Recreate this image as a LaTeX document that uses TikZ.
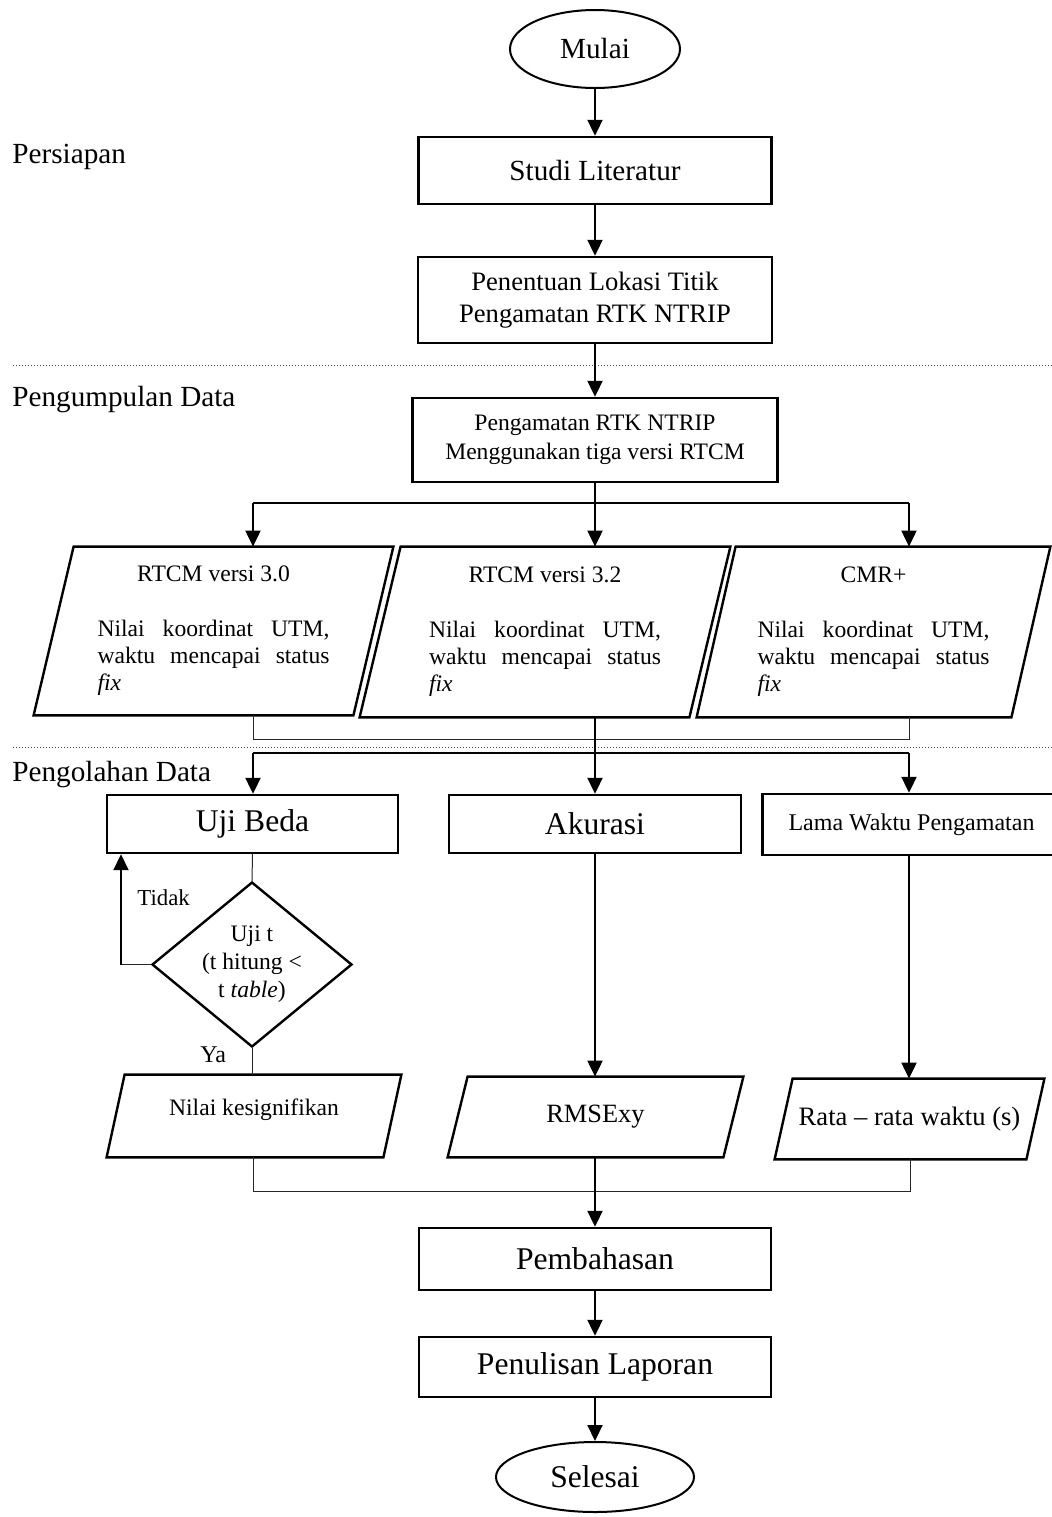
\documentclass[tikz,border=0pt]{standalone}
\usepackage{fontspec}
\setmainfont{Liberation Serif}
\usetikzlibrary{shapes.geometric,arrows.meta}
\tolerance=9999
\hyphenpenalty=10000

\begin{document}
\begin{tikzpicture}[x=0.5pt,y=-0.5pt,
    fbesar/.style={font=\fontsize{15.8}{19}\selectfont},
    fsedang/.style={font=\fontsize{14.6}{17}\selectfont},
    proses/.style={draw,line width=1.2pt,rectangle,inner sep=2pt,align=center},
    terminal/.style={draw,line width=1pt,ellipse,inner sep=0pt},
    datain/.style={rectangle,inner sep=0pt,align=center},
    dataout/.style={datain,text width=116pt,align=justify,font=\fontsize{11.8}{13.5}\selectfont},
    keputusan/.style={draw,line width=1.2pt,diamond,aspect=1.2,inner sep=0pt,align=center,font=\fontsize{11.8}{14}\selectfont},
    tahap/.style={anchor=base west,inner sep=0pt,fsedang},
    panah/.style={line width=1pt,-{Triangle[width=7.5pt,length=8pt]}},
    garis/.style={line width=1pt},
    tipis/.style={line width=0.5pt,black!85},
    batas/.style={line width=0.5pt,densely dotted,black!70}]
            \useasboundingbox (0,0) rectangle (1052,1517);

            % Stage labels and the dotted borders between them
            \node[tahap] (persiapan) at (12,163) {Persiapan};
            \node[tahap] (kumpul) at (12,406) {Pengumpulan Data};
            \node[tahap] (olah) at (12,781) {Pengolahan Data};
            \coordinate (b1a) at (13,365); \coordinate (b1b) at (1052,365);
            \coordinate (b2a) at (13,747); \coordinate (b2b) at (1052,747);
            \draw[batas] (b1a) -- (b1b);
            \draw[batas] (b2a) -- (b2b);

            % Persiapan
            \node[terminal,fsedang,minimum width=85pt,minimum height=39pt] (mulai) at (595,49) {Mulai};
            \node[proses,fsedang,minimum width=176.5pt,minimum height=33.5pt] (studi) at (595,170.5) {Studi Literatur};
            \node[proses,font=\fontsize{13.3}{16}\selectfont,minimum width=177pt,minimum height=43pt] (lokasi) at (595,300) {Penentuan Lokasi Titik\\Pengamatan RTK NTRIP};

            % Pengumpulan Data
            \node[proses,font=\fontsize{11.8}{14.5}\selectfont,minimum width=182.5pt,minimum height=42pt] (amat) at (595,440) {Pengamatan RTK NTRIP\\Menggunakan tiga versi RTCM};
            \node[dataout,minimum width=179.5pt,minimum height=84pt] (p30) at (213.5,631) {\makebox[\linewidth]{RTCM versi 3.0}\\[14pt]Nilai koordinat UTM, waktu mencapai status \textit{fix}};
            \node[dataout,minimum width=185pt,minimum height=85pt] (p32) at (545,632) {\makebox[\linewidth]{RTCM versi 3.2}\\[14pt]Nilai koordinat UTM, waktu mencapai status \textit{fix}};
            \node[dataout,minimum width=176.5pt,minimum height=85pt] (pcmr) at (873.5,632) {\makebox[\linewidth]{CMR+}\\[14pt]Nilai koordinat UTM, waktu mencapai status \textit{fix}};

            % Pengolahan Data
            \node[proses,fbesar,minimum width=145.5pt,minimum height=29pt] (uji) at (252.5,824) {Uji Beda};
            \node[proses,fbesar,minimum width=146pt,minimum height=29pt] (akurasi) at (595,824) {Akurasi};
            \node[proses,font=\fontsize{12}{14}\selectfont,minimum width=149pt,minimum height=30.5pt] (lama) at (911.5,824.5) {Lama Waktu Pengamatan};
            \node[keputusan,minimum width=100pt,minimum height=82.5pt] (ujit) at (252,964.5) {Uji t\\(t hitung <\\t \textit{table})};
            \node[anchor=base west,inner sep=0pt,font=\fontsize{11.4}{14}\selectfont] (tidak) at (137,905) {Tidak};
            \node[anchor=base west,inner sep=0pt,font=\fontsize{12}{14}\selectfont] (ya) at (200,1062) {Ya};
            \node[datain,font=\fontsize{11.8}{14}\selectfont,text depth=8.5pt,minimum width=147pt,minimum height=41pt] (sig) at (254,1116) {Nilai kesignifikan};
            \node[datain,font=\fontsize{13.2}{16}\selectfont,minimum width=147.5pt,minimum height=40pt] (rmse) at (595.5,1117) {RMSExy};
            \node[datain,font=\fontsize{13.3}{16}\selectfont,minimum width=134.5pt,minimum height=40pt] (rata) at (909.5,1119) {Rata \textendash{} rata waktu (s)};
            \node[proses,fbesar,minimum width=176pt,minimum height=31pt] (bahas) at (595,1259) {Pembahasan};
            \node[proses,fbesar,minimum width=176pt,minimum height=30pt] (lapor) at (595,1367) {Penulisan Laporan};
            \node[terminal,fbesar,minimum width=99pt,minimum height=35pt] (selesai) at (595,1477) {Selesai};

            % Parallelogram outlines of the data nodes (node/slant)
            \foreach \n/\s in {p30/20pt,p32/20.5pt,pcmr/19.5pt,sig/9pt,rmse/10pt,rata/9pt}
                \draw[line width=1.2pt] ([xshift=\s]\n.north west) -- (\n.north east) -- ([xshift=-\s]\n.south east) -- (\n.south west) -- cycle;

            % Junction points of the branching lines
            \coordinate (c1) at (595,503); \coordinate (c1l) at (253,503); \coordinate (c1r) at (909,503);
            \coordinate (c2l) at (253,739); \coordinate (c2r) at (909,739);
            \coordinate (c3l) at (253,753); \coordinate (c3r) at (909,753);
            \coordinate (c4) at (121,964.5);
            \coordinate (c5l) at (253,1191); \coordinate (c5r) at (910,1191);

            % Connectors
            \draw[panah] (mulai) -- (studi);
            \draw[panah] (studi) -- (lokasi);
            \draw[panah] (lokasi) -- (amat);
            \draw[garis] (amat) -- (c1);
            \draw[garis] (c1l) -- (c1r);
            \draw[panah] (c1l) -- (c1l |- p30.north);
            \draw[panah] (c1) -- (c1 |- p32.north);
            \draw[panah] (c1r) -- (c1r |- pcmr.north);
            \draw[tipis] (c2l |- p30.south) -- (c2l) -- (c2r) -- (c2r |- pcmr.south);
            \draw[panah] (akurasi.north |- p32.south) -- (akurasi.north);
            \draw[garis] (c3l) -- (c3r);
            \draw[panah] (c3l) -- (c3l |- uji.north);
            \draw[panah] (c3r) -- (c3r |- lama.north);
            \draw[tipis] (uji.south) -- (ujit.north);
            \draw[tipis] (ujit.west) -- (c4);
            \draw[panah] (c4) -- (c4 |- uji.south); % Tidak
            \draw[tipis] (ujit.south) -- (ujit.south |- sig.north); % Ya
            \draw[panah] (akurasi.south) -- (akurasi.south |- rmse.north);
            \draw[panah] (c3r |- lama.south) -- (c3r |- rata.north);
            \draw[tipis] (c5l |- sig.south) -- (c5l) -- (c5r) -- (c5r |- rata.south);
            \draw[panah] (bahas.north |- rmse.south) -- (bahas.north);
            \draw[panah] (bahas) -- (lapor);
            \draw[panah] (lapor) -- (selesai);
        \end{tikzpicture}
\end{document}
